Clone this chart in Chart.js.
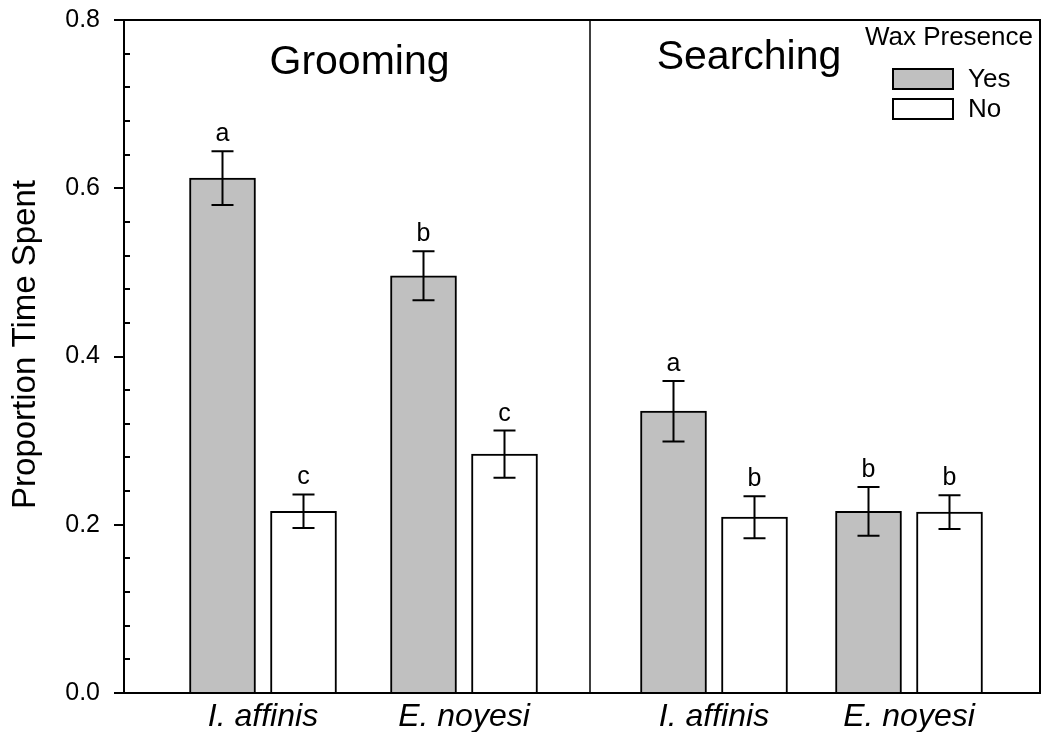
<!DOCTYPE html>
<html>
<head>
<meta charset="utf-8">
<script src="https://cdn.jsdelivr.net/npm/chart.js@4.4.1/dist/chart.umd.min.js"></script>
<style>
  html, body { margin: 0; padding: 0; background: #fff; }
  canvas { display: block; }
</style>
</head>
<body>
<canvas id="waxChart" width="1044" height="732"></canvas>
<script>
// data
const panels = ['Grooming', 'Searching'];
const groups = ['I. affinis', 'E. noyesi', 'I. affinis', 'E. noyesi'];
const yesMean = [0.612, 0.496, 0.335, 0.216];
const yesSE = [0.032, 0.029, 0.036, 0.029];
const yesLetters = ['a', 'b', 'a', 'b'];
const noMean = [0.216, 0.284, 0.209, 0.215];
const noSE = [0.020, 0.028, 0.025, 0.020];
const noLetters = ['c', 'c', 'b', 'b'];
const yTicks = [0.0, 0.2, 0.4, 0.6, 0.8];
const yTitle = 'Proportion Time Spent';

// layout (x axis units, not data)
const groupX = [1.39, 3.40, 5.90, 7.85];
const pairOffset = 0.405;
const dividerX = 4.66;
const panelTitleX = [2.355, 6.25];
const panelTitleY = [0.736, 0.742];

const FONT = "'Liberation Sans', Arial, sans-serif";
const GREY = '#c0c0c0';

let framePlugin = {
  id: 'frame',
  afterDatasetsDraw(chart) {
    const c = chart.ctx;
    const a = chart.chartArea;
    const x = chart.scales.x;
    const y = chart.scales.y;
    c.save();
    c.strokeStyle = '#000';
    c.fillStyle = '#000';

    // error bars + letters
    c.lineWidth = 2;
    chart.data.datasets.forEach((ds, d) => {
      chart.getDatasetMeta(d).data.forEach((bar, i) => {
        const m = ds.data[i].y;
        const top = y.getPixelForValue(m + ds.se[i]);
        const bot = y.getPixelForValue(m - ds.se[i]);
        c.beginPath();
        c.moveTo(bar.x, top); c.lineTo(bar.x, bot);
        c.moveTo(bar.x - 11, top); c.lineTo(bar.x + 11, top);
        c.moveTo(bar.x - 11, bot); c.lineTo(bar.x + 11, bot);
        c.stroke();
        c.font = '25px ' + FONT;
        c.textAlign = 'center';
        c.textBaseline = 'alphabetic';
        c.fillText(ds.letters[i], bar.x, top - 10);
      });
    });

    // frame and panel divider
    c.lineWidth = 2;
    c.strokeRect(a.left, a.top, a.right - a.left, a.bottom - a.top);
    const dx = Math.round(x.getPixelForValue(dividerX));
    c.lineWidth = 1.5;
    c.beginPath();
    c.moveTo(dx, a.top); c.lineTo(dx, a.bottom);
    c.stroke();

    // y ticks: major outside, minor inside
    c.lineWidth = 2;
    c.beginPath();
    for (let k = 0; k <= 20; k++) {
      const py = Math.round(y.getPixelForValue(k * 0.04));
      if (k % 5 === 0) {
        c.moveTo(a.left - 10, py); c.lineTo(a.left, py);
      } else {
        c.moveTo(a.left, py); c.lineTo(a.left + 6, py);
      }
    }
    c.stroke();

    // y axis title, sits a little above the middle in the original
    c.save();
    c.translate(26, (a.top + a.bottom) / 2 - 12);
    c.rotate(-Math.PI / 2);
    c.font = '33px ' + FONT;
    c.textAlign = 'center';
    c.textBaseline = 'middle';
    c.fillText(yTitle, 0, 0);
    c.restore();

    // panel titles
    c.font = '41px ' + FONT;
    c.textAlign = 'center';
    c.textBaseline = 'alphabetic';
    panels.forEach((p, i) => {
      c.fillText(p, x.getPixelForValue(panelTitleX[i]), y.getPixelForValue(panelTitleY[i]));
    });

    // legend
    c.font = '26px ' + FONT;
    c.textAlign = 'right';
    c.fillText('Wax Presence', a.right - 7, a.top + 25);
    c.textAlign = 'left';
    c.textBaseline = 'middle';
    chart.data.datasets.forEach((ds, d) => {
      const bx = a.right - 147, by = a.top + 49 + d * 30;
      c.fillStyle = ds.backgroundColor;
      c.fillRect(bx, by, 60, 20);
      c.lineWidth = 2;
      c.strokeRect(bx, by, 60, 20);
      c.fillStyle = '#000';
      c.fillText(ds.label, bx + 75, by + 11);
    });
    c.restore();
  }
};

let ctx = document.getElementById('waxChart').getContext('2d');
let waxChart = new Chart(ctx, {
  type: 'bar',
  data: {
    datasets: [{
      label: 'Yes',
      data: groups.map((g, i) => ({ x: groupX[i] - pairOffset, y: yesMean[i] })),
      se: yesSE,
      letters: yesLetters,
      backgroundColor: GREY,
      borderColor: '#000',
      borderWidth: 2
    }, {
      label: 'No',
      data: groups.map((g, i) => ({ x: groupX[i] + pairOffset, y: noMean[i] })),
      se: noSE,
      letters: noLetters,
      backgroundColor: '#ffffff',
      borderColor: '#000',
      borderWidth: 2
    }]
  },
  options: {
    responsive: false,
    animation: false,
    grouped: false,
    barThickness: 66,
    layout: { padding: { top: 20, right: 4, left: 0, bottom: 0 } },
    plugins: {
      legend: { display: false },
      tooltip: { enabled: false }
    },
    scales: {
      x: {
        type: 'linear',
        min: 0,
        max: 9.16,
        offset: false,
        grid: { display: false },
        border: { display: false },
        afterBuildTicks: s => { s.ticks = groupX.map(v => ({ value: v })); },
        afterFit: s => { s.height = 39; s.paddingLeft = 0; s.paddingRight = 0; },
        ticks: {
          autoSkip: false,
          maxRotation: 0,
          padding: -3,
          color: '#000',
          font: { family: FONT, size: 32, style: 'italic' },
          callback: (v, i) => groups[i]
        }
      },
      y: {
        min: 0,
        max: 0.8,
        grid: { display: false, drawTicks: false },
        border: { display: false },
        afterBuildTicks: s => { s.ticks = yTicks.map(v => ({ value: v })); },
        afterFit: s => { s.width = 124; s.paddingTop = 0; s.paddingBottom = 0; },
        ticks: {
          padding: 24,
          color: '#000',
          font: { family: FONT, size: 25 },
          callback: v => v.toFixed(1)
        }
      }
    }
  },
  plugins: [framePlugin]
});
</script>
</body>
</html>
